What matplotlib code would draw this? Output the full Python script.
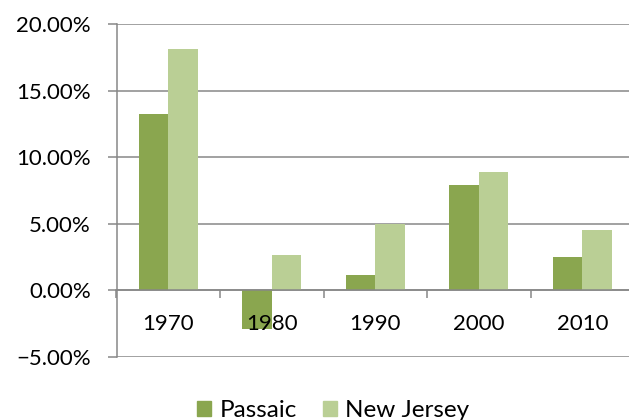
import matplotlib.pyplot as plt
import numpy as np
from matplotlib.patches import Patch
from matplotlib.ticker import FixedLocator, PercentFormatter

# datos
years = ["1970", "1980", "1990", "2000", "2010"]
passaic = [13.27, -2.93, 1.18, 7.88, 2.48]
new_jersey = [18.14, 2.68, 5.0, 8.88, 4.5]
y_ticks = [-5, 0, 5, 10, 15, 20]

C_PASSAIC = "#8AA64F"
C_NJ = "#BACF95"
C_GRID = "#878787"

plt.rcParams["font.family"] = ["Lato", "DejaVu Sans"]

fig = plt.figure(figsize=(6.29, 4.2), dpi=100)
ax = fig.add_axes([116.5 / 629, 63 / 420, 517.5 / 629, 333 / 420])

x = np.arange(len(years))
w = 0.285
ax.bar(x - w / 2, passaic, w, color=C_PASSAIC, zorder=2)
ax.bar(x + w / 2, new_jersey, w, color=C_NJ, zorder=2)

ax.set_xlim(-0.5, len(years) - 0.5)
ax.set_ylim(-5, 20)
ax.set_yticks(y_ticks)
ax.yaxis.set_major_formatter(PercentFormatter(decimals=2))
ax.grid(axis="y", color=C_GRID, lw=1.1)
ax.tick_params(axis="y", length=6.5, width=1.1, color=C_GRID, pad=12, labelsize=16)

# rejilla detrás de las barras, etiquetas del eje x por delante
ax.yaxis.set_zorder(0.5)
ax.xaxis.set_zorder(4)

# eje x en el cero, etiquetas centradas, marcas en los límites
for s in ["top", "right"]:
    ax.spines[s].set_visible(False)
ax.spines["left"].set_color(C_GRID)
ax.spines["left"].set_linewidth(1.1)
ax.spines["bottom"].set_position(("data", 0))
ax.spines["bottom"].set_color(C_GRID)
ax.spines["bottom"].set_linewidth(1.1)
ax.spines["bottom"].set_zorder(3)
ax.set_xticks(x)
ax.set_xticklabels(years)
ax.xaxis.set_minor_locator(FixedLocator(np.arange(-0.5, len(years), 1.0)))
ax.tick_params(axis="x", which="major", length=0, pad=17, labelsize=16)
ax.tick_params(axis="x", which="minor", length=6, width=1.1, color=C_GRID)

handles = [Patch(color=C_PASSAIC, label="Passaic"), Patch(color=C_NJ, label="New Jersey")]
fig.legend(handles=handles, loc="lower center", bbox_to_anchor=(0.53, -0.055), ncol=2,
           frameon=False, fontsize=17.5, handlelength=0.55, handleheight=0.55,
           handletextpad=0.35, columnspacing=1.1)

fig.savefig("out.png", dpi=100)
